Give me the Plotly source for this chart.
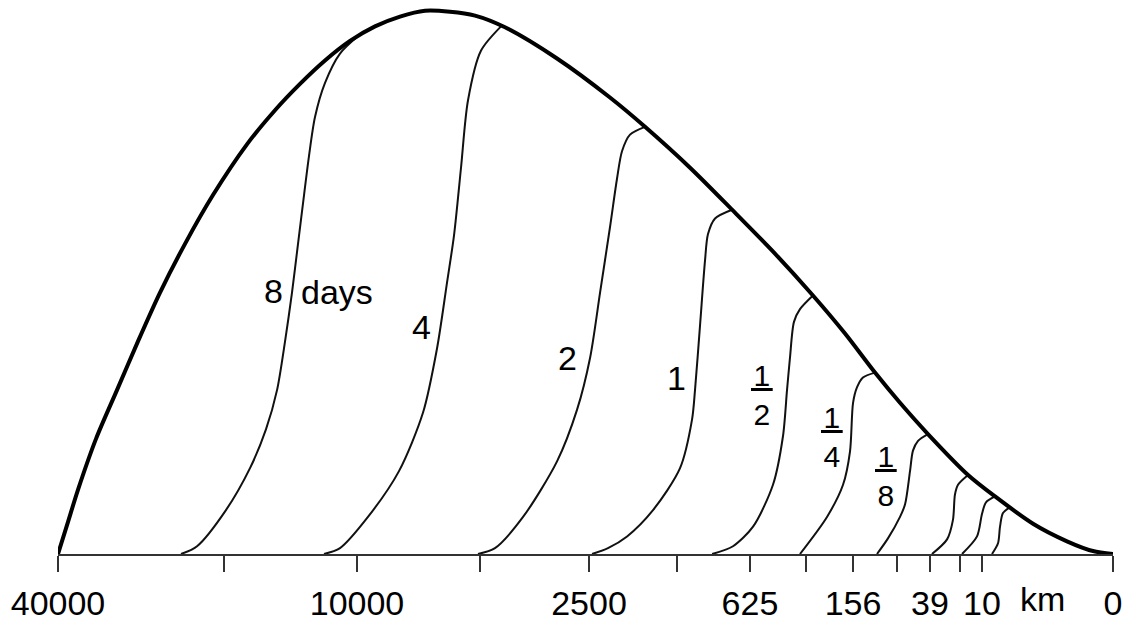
import plotly.graph_objects as go

# Axis: relative scale position (0 = 40000 km, 100 = 0 km); y: relative error energy (0-100)
tick_pos = [0, 15.73, 28.34, 40.0, 50.33, 58.67, 65.59, 70.9, 75.36, 79.53, 82.65, 85.5, 87.58, 100]
tick_text = ["40000", "", "10000", "", "2500", "", "625", "", "156", "", "39", "", "10", "0"]

env_x = [0, 0.95, 1.9, 3.6, 5.59, 7.58, 9.67, 12.04, 14.69, 17.91, 20.57, 22.94, 25.31, 27.68,
         30.05, 32.42, 34.79, 37.16, 39.53, 42.37, 47.3, 52.32, 55.64, 59.91, 63.89, 67.96,
         71.56, 74.6, 77.44, 79.81, 82.46, 86.26, 88.82, 92.42, 95.64, 98.1, 100]
env_y = [0, 5.91, 11.83, 21.15, 30.11, 39.07, 48.03, 56.99, 65.95, 75.27, 81.54, 86.38, 90.68,
         94.27, 96.95, 98.75, 99.82, 99.64, 98.92, 96.77, 91.04, 83.87, 78.49, 70.97, 63.26,
         55.2, 47.49, 40.5, 33.33, 27.78, 22.04, 14.52, 10.57, 5.56, 2.33, 0.54, 0]

d8_x = [11.66, 13.18, 15.92, 18.2, 19.72, 20.76, 21.52, 22.18, 22.75, 23.32, 23.79, 24.36,
        25.31, 26.73, 28.44]
d8_y = [0, 1.43, 8.06, 15.77, 22.94, 30.11, 39.07, 48.03, 56.99, 65.95, 73.12, 80.29,
        86.56, 91.94, 95.16]

d4_x = [25.21, 26.73, 29.38, 32.32, 34.6, 35.93, 36.87, 37.54, 38.2, 38.86, 40.09, 42.09]
d4_y = [0, 1.08, 6.81, 15.23, 25.99, 37.81, 49.82, 58.6, 70.97, 83.33, 92.47, 97.13]

d2_x = [39.81, 41.42, 44.08, 47.3, 49.2, 50.43, 51.38, 52.32, 52.99, 53.46, 54.22, 55.64]
d2_y = [0, 1.08, 6.81, 17.02, 26.52, 36.02, 48.03, 60.04, 68.99, 74.01, 77.06, 78.49]

d1_x = [50.62, 52.13, 53.94, 56.4, 58.96, 60.1, 60.38, 60.86, 61.33, 61.61, 62.28, 63.89]
d1_y = [0, 1.08, 3.23, 8.06, 15.77, 24.73, 30.11, 42.11, 53.94, 58.78, 61.65, 63.26]

dh_x = [62.0, 63.98, 65.88, 67.77, 68.72, 69.1, 69.38, 69.76, 70.33, 71.56]
dh_y = [0, 1.43, 5.02, 12.72, 21.68, 30.11, 36.02, 42.65, 44.98, 47.49]

dq_x = [70.33, 72.89, 74.41, 75.07, 75.36, 75.74, 76.3, 77.44]
dq_y = [0, 6.81, 12.72, 18.82, 27.78, 30.65, 32.44, 33.33]

de_x = [77.63, 78.67, 79.81, 80.29, 80.76, 81.04, 81.52, 82.46]
de_y = [0, 2.87, 6.81, 9.14, 15.23, 19.0, 20.79, 22.04]

d16_x = [82.84, 84.27, 84.83, 85.02, 85.31, 86.26]
d16_y = [0, 2.69, 6.27, 10.93, 12.72, 14.52]

d32_x = [85.69, 87.11, 87.58, 87.96, 88.82]
d32_y = [0, 3.23, 7.35, 9.5, 10.57]

d64_x = [88.53, 89.1, 89.29, 89.57, 90.24]
d64_y = [0, 1.97, 5.02, 7.53, 8.6]

curves = [(d8_x, d8_y), (d4_x, d4_y), (d2_x, d2_y), (d1_x, d1_y), (dh_x, dh_y),
          (dq_x, dq_y), (de_x, de_y), (d16_x, d16_y), (d32_x, d32_y), (d64_x, d64_y)]

labels = [("8", 20.47, 48.39), ("days", 26.45, 48.2), ("4", 34.41, 41.76), ("2", 48.34, 36.02),
          ("1", 58.67, 32.26)]
fractions = [("1", "2", 66.73, 29.3), ("1", "4", 73.36, 21.5), ("1", "8", 78.48, 14.25)]
unit_label = ("km", 93.27)

FONT = "Liberation Sans, Arial, Helvetica, sans-serif"
INK = "#000"

fig = go.Figure()
for cx, cy in curves:
    fig.add_trace(go.Scatter(x=cx, y=cy, mode="lines",
                             line=dict(color="#111", width=2, shape="spline", smoothing=0.8),
                             hoverinfo="skip", showlegend=False))
fig.add_trace(go.Scatter(x=env_x, y=env_y, mode="lines",
                         line=dict(color="#000", width=4, shape="spline", smoothing=0.8),
                         hoverinfo="skip", showlegend=False))

for t, x, y in labels:
    fig.add_annotation(x=x, y=y, xref="x", yref="y", text=t, showarrow=False,
                       font=dict(family=FONT, size=34, color=INK),
                       xanchor="center", yanchor="middle")
for num, den, x, y in fractions:
    fig.add_annotation(x=x, y=y, xref="x", yref="y",
                       text="<u>\u200a" + num + "\u200a</u><br>" + den, showarrow=False,
                       font=dict(family=FONT, size=30, color=INK),
                       xanchor="center", yanchor="middle", align="center")

fig.add_annotation(x=unit_label[1], y=0, xref="x", yref="y", text=unit_label[0], showarrow=False,
                   font=dict(family=FONT, size=34, color=INK),
                   xanchor="center", yanchor="top", yshift=-24)

fig.update_layout(
    width=1126, height=622,
    margin=dict(l=58, r=13, t=0, b=54),
    paper_bgcolor="white", plot_bgcolor="white",
    xaxis=dict(range=[0, 100], showgrid=False, zeroline=False, showline=True,
               linecolor="#333", linewidth=2, ticks="outside", ticklen=16, tickwidth=2,
               tickcolor="#333", tickmode="array", tickvals=tick_pos, ticktext=tick_text,
               ticklabelstandoff=2,
               tickfont=dict(family=FONT, size=34, color=INK), fixedrange=True),
    yaxis=dict(range=[0, 101.79], visible=False, fixedrange=True),
)

fig.write_html("out.html")
